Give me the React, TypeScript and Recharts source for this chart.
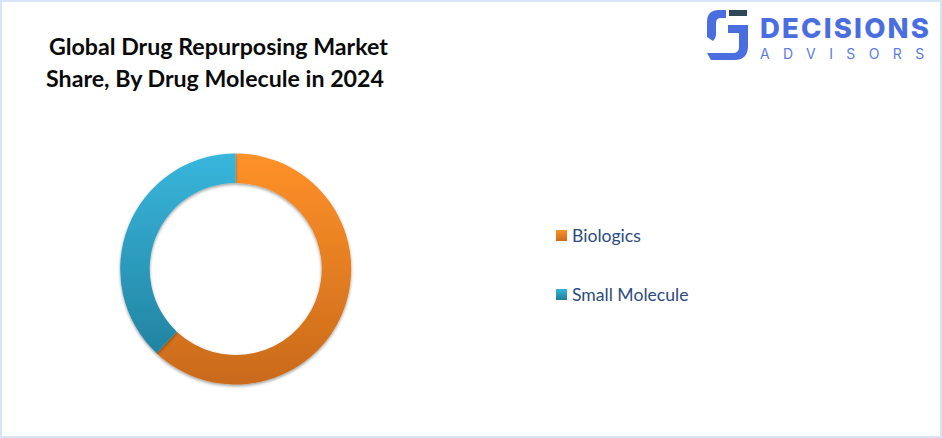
import { PieChart, Pie, Cell, Legend } from "recharts";

const categories = ["Biologics", "Small Molecule"];
const shares = [62, 38];
const titleLines = ["Global Drug Repurposing Market", "Share, By Drug Molecule in 2024"];
const gradients = ["orangeFill", "blueFill"];
const swatches = ["swatchOrange", "swatchBlue"];

const chartData = categories.map((name, i) => ({ name, value: shares[i] }));

const FONT = "Lato, sans-serif";

function LegendList() {
  return (
    <div>
      {categories.map((name, i) => (
        <div
          key={name}
          style={{
            display: "flex",
            alignItems: "center",
            height: 24,
            marginBottom: i === 0 ? 35 : 0,
            fontFamily: FONT,
            fontSize: 17.6,
            color: "#2b4c7e",
          }}
        >
          <svg width={11} height={11} style={{ marginRight: 5, marginTop: 1 }}>
            <rect width={11} height={11} fill={`url(#${swatches[i]})`} />
          </svg>
          {name}
        </div>
      ))}
    </div>
  );
}

function Logo() {
  return (
    <div style={{ position: "absolute", left: 703, top: 6, width: 232, height: 56 }}>
      <svg width={46} height={54} style={{ position: "absolute", left: 0, top: 0 }}>
        <path
          d="M21 2 V10 H16 Q11 10 11 15 V27 Q11 30 8 33 L2 29 V14 Q2 2 14 2 Z"
          fill="#4a6ee0"
        />
        <rect x={24} y={2} width={18} height={6} fill="#2f4858" />
        <path
          d="M23 17 H43 V38 Q43 52 29 52 H6 L2 45 H28 Q34 45 34 39 V25 H23 Z"
          fill="#4a6ee0"
        />
      </svg>
      <div
        style={{
          position: "absolute",
          left: 55,
          top: 3,
          fontFamily: "Inter, sans-serif",
          fontWeight: 800,
          fontSize: 27.5,
          letterSpacing: 2.2,
          color: "#4a6ee0",
          lineHeight: "34px",
          whiteSpace: "nowrap",
        }}
      >
        DECISIONS
      </div>
      <div
        style={{
          position: "absolute",
          left: 55,
          top: 37,
          fontFamily: "Inter, sans-serif",
          fontSize: 14,
          letterSpacing: 13.4,
          color: "#5d7ce0",
          lineHeight: "18px",
          whiteSpace: "nowrap",
        }}
      >
        ADVISORS
      </div>
    </div>
  );
}

export default function App() {
  return (
    <div
      style={{
        position: "fixed",
        left: 0,
        top: 0,
        width: 942,
        height: 438,
        boxSizing: "border-box",
        border: "2px solid #d6e4f5",
        background: "#fff",
        overflow: "hidden",
      }}
    >
      <div style={{ position: "absolute", left: -2, top: -2, width: 942, height: 438 }}>
        <PieChart width={942} height={438} margin={{ top: 0, right: 0, bottom: 0, left: 0 }}>
          <defs>
            <linearGradient id="orangeFill" gradientUnits="userSpaceOnUse" x1="0" y1="153" x2="0" y2="384">
              <stop offset="0%" stopColor="#ff9229" />
              <stop offset="100%" stopColor="#c96a1b" />
            </linearGradient>
            <linearGradient id="blueFill" gradientUnits="userSpaceOnUse" x1="0" y1="153" x2="0" y2="384">
              <stop offset="0%" stopColor="#38b6dc" />
              <stop offset="100%" stopColor="#1f7c98" />
            </linearGradient>
            <linearGradient id="swatchOrange" x1="0" y1="0" x2="0" y2="1">
              <stop offset="0%" stopColor="#ff9229" />
              <stop offset="100%" stopColor="#c96a1b" />
            </linearGradient>
            <linearGradient id="swatchBlue" x1="0" y1="0" x2="0" y2="1">
              <stop offset="0%" stopColor="#38b6dc" />
              <stop offset="100%" stopColor="#1f7c98" />
            </linearGradient>
            <filter id="ringShadow" x="-10%" y="-10%" width="120%" height="120%">
              <feDropShadow dx="0" dy="1.5" stdDeviation="1.5" floodColor="#000" floodOpacity="0.4" />
            </filter>
          </defs>
          <Pie
            data={chartData}
            dataKey="value"
            nameKey="name"
            cx={235.7}
            cy={269}
            outerRadius={115.5}
            innerRadius={86}
            startAngle={90}
            endAngle={-270}
            stroke="none"
            filter="url(#ringShadow)"
            isAnimationActive={false}
          >
            {chartData.map((d, i) => (
              <Cell key={d.name} fill={`url(#${gradients[i]})`} />
            ))}
          </Pie>
          <Legend
            layout="vertical"
            content={<LegendList />}
            wrapperStyle={{ left: 556, top: 223, width: 200, bottom: "auto", right: "auto" }}
          />
        </PieChart>
      </div>
      <div
        style={{
          position: "absolute",
          left: 47,
          top: 28,
          fontFamily: FONT,
          fontWeight: 700,
          fontSize: 23.2,
          lineHeight: "32px",
          color: "#0a0a0a",
          whiteSpace: "nowrap",
        }}
      >
        <div>{titleLines[0]}</div>
        <div style={{ marginLeft: -3 }}>{titleLines[1]}</div>
      </div>
      <Logo />
    </div>
  );
}
